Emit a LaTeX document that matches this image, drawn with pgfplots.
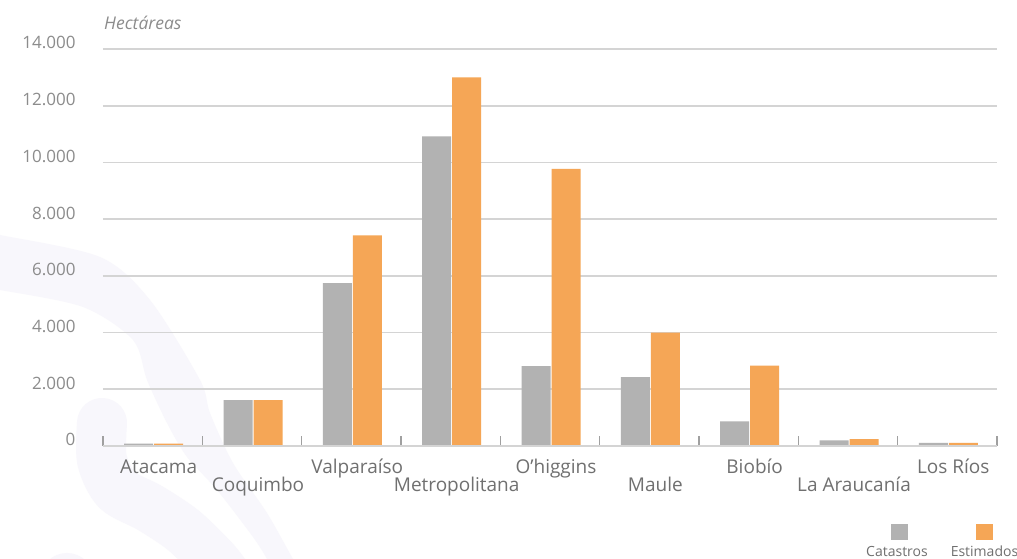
\documentclass[border=0pt]{standalone}
\usepackage{fontspec}
\setmainfont{Open Sans}
\usepackage{pgfplots}
\pgfplotsset{compat=1.18}

\definecolor{catgray}{RGB}{178,178,178}
\definecolor{estorange}{RGB}{245,166,86}
\definecolor{gridgray}{RGB}{212,212,212}
\definecolor{tickgray}{RGB}{160,160,160}
\definecolor{labelgray}{RGB}{112,112,112}
\definecolor{numgray}{RGB}{140,140,140}
\definecolor{swoosh}{RGB}{248,247,252}

\begin{document}
\begin{tikzpicture}[x=1pt,y=1pt]
  % page background and faint decorative swoosh
  \fill[white] (0,0) rectangle (1017,559);
  \begin{scope}
    \clip (0,0) rectangle (1017,559);
    \fill[swoosh] plot[smooth] coordinates {(-10,326) (0,324) (100,302) (150,259) (200,179) (210,146) (233,96) (267,46) (293,0) (300,-10)}
      -- plot[smooth] coordinates {(270,-10) (267,0) (253,22) (217,69) (187,102) (167,136) (147,179) (133,219) (83,252) (0,269) (-10,270)} -- cycle;
    \draw[swoosh, line width=50pt, line cap=round] plot[smooth] coordinates {(102,136) (102,99) (117,69) (150,51) (183,29) (213,0) (225,-15)};
    \fill[swoosh] (67,-21) circle (27);
  \end{scope}

  \begin{axis}[
    at={(103pt,113pt)}, anchor=south west,
    scale only axis, width=894pt, height=397pt,
    xmin=-0.5, xmax=8.5, ymin=0, ymax=14000,
    ybar, bar width=29pt,
    axis line style={draw=none},
    ymajorgrids, grid style={gridgray, line width=1.6pt},
    ytick={0,2000,...,14000},
    major tick length=0pt,
    xtick pos=bottom,
    tick align=inside,
    minor xtick={-0.5,0.5,...,8.5},
    minor tick length=10pt,
    minor tick style={tickgray, line width=1.2pt},
    xtick={0,2,4,6,8},
    xticklabels={Atacama,Valparaíso,O’higgins,Biobío,Los Ríos},
    extra x ticks={1,3,5,7},
    extra x tick labels={Coquimbo,Metropolitana,Maule,La Araucanía},
    extra x tick style={major tick length=0pt, xticklabel style={yshift=-18pt}},
    xticklabel style={anchor=base, xshift=6pt, yshift=-28pt, font=\fontsize{19}{21}\selectfont, text=labelgray},
    yticklabel style={anchor=base east, xshift=-24pt, yshift=0pt, font=\fontsize{17}{19}\selectfont, text=numgray},
    /pgf/number format/1000 sep={.},
    /pgf/number format/assume math mode=true,
    scaled y ticks=false,
    clip=false,
  ]
    % Catastros
    \addplot[fill=catgray, draw=none, bar shift=-14pt] coordinates {
      (0,80) (1,1620) (2,5740) (3,10920) (4,2820) (5,2430) (6,870) (7,200) (8,110)};
    % Estimados
    \addplot[fill=estorange, draw=none, bar shift=16pt] coordinates {
      (0,80) (1,1620) (2,7430) (3,13000) (4,9770) (5,4000) (6,2830) (7,240) (8,110)};
    % baseline
    \draw[gridgray, line width=1.8pt] (axis cs:-0.5,0) -- (axis cs:8.5,0);
  \end{axis}

  % unit label
  \node[anchor=base west, inner sep=0, text=numgray, font=\fontsize{17.5}{19}\selectfont\itshape] at (104,529) {Hectáreas};

  % legend
  \fill[catgray] (891,19) rectangle (908,35);
  \fill[estorange] (976,19) rectangle (993,35);
  \node[anchor=base, inner sep=0, text=labelgray, font=\fontsize{14}{16}\selectfont] at (897,2) {Catastros};
  \node[anchor=base, inner sep=0, text=labelgray, font=\fontsize{14}{16}\selectfont] at (984.5,2) {Estimados};

  \pgfresetboundingbox
  \path[use as bounding box] (0,0) rectangle (1017,559);
\end{tikzpicture}
\end{document}
